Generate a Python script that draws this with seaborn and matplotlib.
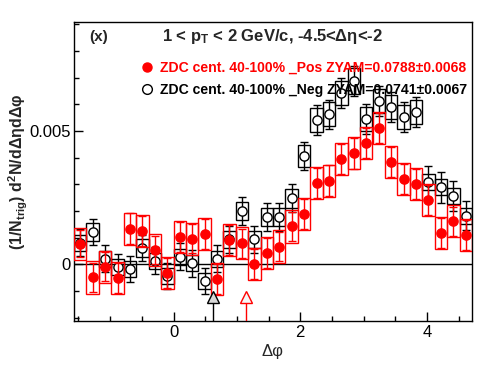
import numpy as np
import pandas as pd
import matplotlib
matplotlib.use("Agg")
import matplotlib.pyplot as plt
import seaborn as sns
from matplotlib.lines import Line2D
from matplotlib.ticker import MultipleLocator, FuncFormatter

sns.set_style("ticks")
plt.rcParams["font.family"] = ["Liberation Sans", "DejaVu Sans"]
plt.rcParams["mathtext.fontset"] = "custom"
plt.rcParams["mathtext.rm"] = "Liberation Sans"
plt.rcParams["mathtext.bf"] = "Liberation Sans:bold"
plt.rcParams["mathtext.it"] = "Liberation Sans:italic"

# ---------------- data ----------------
n_bins = 32
bin_edges = np.linspace(-np.pi / 2, 3 * np.pi / 2, n_bins + 1)
dphi = 0.5 * (bin_edges[:-1] + bin_edges[1:])
bin_width = bin_edges[1] - bin_edges[0]

pos_vals = [0.00078, -0.00049, -0.00008, -0.00052, 0.00133, 0.00125, 0.00054, -0.00031,
            0.00102, 0.00096, 0.00113, -0.00056, 0.00092, 0.00079, 0.00001, 0.00043,
            0.00067, 0.00142, 0.00189, 0.00304, 0.00314, 0.00394, 0.00416, 0.00454,
            0.00510, 0.00383, 0.00319, 0.00300, 0.00242, 0.00117, 0.00161, 0.00110]
pos_stat = [0.00052, 0.00056, 0.00055, 0.00056, 0.00058, 0.00056, 0.00054, 0.00056,
            0.00055, 0.00055, 0.00056, 0.00056, 0.00056, 0.00055, 0.00055, 0.00055,
            0.00056, 0.00056, 0.00056, 0.00056, 0.00057, 0.00057, 0.00057, 0.00057,
            0.00057, 0.00057, 0.00056, 0.00056, 0.00056, 0.00056, 0.00055, 0.00055]
pos_sys = [0.00060] * n_bins

neg_vals = [0.00082, 0.00121, 0.00021, -0.00010, -0.00017, 0.00061, 0.00014, -0.00043,
            0.00029, 0.00004, -0.00062, 0.00021, 0.00094, 0.00200, 0.00094, 0.00178,
            0.00178, 0.00248, 0.00406, 0.00541, 0.00562, 0.00643, 0.00687, 0.00544,
            0.00612, 0.00590, 0.00552, 0.00571, 0.00309, 0.00289, 0.00257, 0.00183]
neg_stat = [0.00050, 0.00050, 0.00050, 0.00050, 0.00050, 0.00050, 0.00050, 0.00050,
            0.00050, 0.00050, 0.00050, 0.00050, 0.00050, 0.00052, 0.00050, 0.00052,
            0.00052, 0.00052, 0.00053, 0.00055, 0.00055, 0.00056, 0.00057, 0.00055,
            0.00056, 0.00056, 0.00055, 0.00056, 0.00060, 0.00058, 0.00056, 0.00054]
neg_sys = [0.00030, 0.00033, 0.00030, 0.00030, 0.00030, 0.00033, 0.00030, 0.00030,
           0.00030, 0.00030, 0.00030, 0.00030, 0.00032, 0.00035, 0.00032, 0.00034,
           0.00034, 0.00036, 0.00042, 0.00044, 0.00045, 0.00045, 0.00050, 0.00045,
           0.00046, 0.00045, 0.00044, 0.00045, 0.00030, 0.00030, 0.00030, 0.00030]

marker_x = [0.618, 1.141]
marker_y = [-0.00122, -0.00122]

pos_label = "ZDC cent. 40-100% _Pos ZYAM=0.0788\u00b10.0068"
neg_label = "ZDC cent. 40-100% _Neg ZYAM=0.0741\u00b10.0067"
title_text = "1 < p$_{\\mathbf{T}}$ < 2 GeV/c, -4.5<\u0394\u03b7<-2"
ylabel_text = "(1/N$_{\\mathbf{trig}}$) d$^{\\mathbf{2}}$N/d\u0394\u03b7d\u0394\u03c6"
xlabel_text = "\u0394\u03c6"

df = pd.DataFrame({
    "dphi": np.concatenate([dphi, dphi]),
    "val": pos_vals + neg_vals,
    "stat": pos_stat + neg_stat,
    "sys": pos_sys + neg_sys,
    "series": ["Pos"] * n_bins + ["Neg"] * n_bins,
})

# ---------------- figure ----------------
W, H = 496, 374
fig = plt.figure(figsize=(W / 100, H / 100), dpi=100)
L, R, T, B = 74, 472, 22, 321
ax = fig.add_axes([L / W, 1 - B / H, (R - L) / W, (B - T) / H])

ax.axhline(0, color="black", lw=1.0, zorder=1)

styles = {"Neg": dict(color="black", face="white", z=2),
          "Pos": dict(color="red", face="red", z=5)}
for name in ["Neg", "Pos"]:
    d = df[df["series"] == name]
    st = styles[name]
    ax.bar(d["dphi"].to_numpy(), (2 * d["sys"]).to_numpy(),
           bottom=(d["val"] - d["sys"]).to_numpy(), width=bin_width, align="center",
           fill=False, edgecolor=st["color"], linewidth=1.0, zorder=st["z"])
    ax.errorbar(d["dphi"], d["val"], yerr=d["stat"], fmt="none", ecolor=st["color"],
                elinewidth=1.0, capsize=3, capthick=1.0, zorder=st["z"] + 0.5)
    sns.scatterplot(data=d, x="dphi", y="val", ax=ax, marker="o", s=44,
                    color=st["face"], edgecolor=st["color"], linewidth=1.0,
                    zorder=st["z"] + 1, legend=False)

# triangle markers near the bottom
ax.errorbar([marker_x[0]], [marker_y[0]], yerr=[[0.003], [0]], fmt="^", ms=9,
            mfc="#d8d8d8", mec="black", mew=1.0, ecolor="black", elinewidth=1.0,
            capsize=0, zorder=8)
ax.errorbar([marker_x[1]], [marker_y[1]], yerr=[[0.003], [0]], fmt="^", ms=9,
            mfc="#f6f6f6", mec="red", mew=1.0, ecolor="red", elinewidth=1.0,
            capsize=0, zorder=8)

ax.set_xlim(-np.pi / 2, 3 * np.pi / 2)
ax.set_ylim(-0.00212, 0.00908)

ax.xaxis.set_major_locator(MultipleLocator(2))
ax.xaxis.set_minor_locator(MultipleLocator(0.5))
ax.yaxis.set_major_locator(MultipleLocator(0.005))
ax.yaxis.set_minor_locator(MultipleLocator(0.001))
ax.yaxis.set_major_formatter(FuncFormatter(lambda v, p: "0" if abs(v) < 1e-12 else f"{v:g}"))
ax.xaxis.set_major_formatter(FuncFormatter(lambda v, p: f"{v:g}"))
ax.tick_params(axis="both", which="both", direction="in", top=False, right=False,
               labelsize=12, width=1.0, colors="black")
ax.tick_params(axis="x", which="major", length=6.5, pad=3)
ax.tick_params(axis="y", which="major", length=6.5, pad=2.5)
ax.tick_params(axis="both", which="minor", length=3.5)
for s in ax.spines.values():
    s.set_linewidth(1.0)
    s.set_color("black")

ax.set_xlabel(xlabel_text, fontsize=12, labelpad=3)
ax.set_ylabel(ylabel_text, fontsize=11.5, fontweight="bold")
ax.yaxis.set_label_coords(-44 / (R - L), 0.5)

fig.text(99 / W, 1 - 37 / H, "(x)", fontsize=11, fontweight="bold", ha="center", va="center")
fig.text(162 / W, 1 - 37 / H, title_text, fontsize=12, fontweight="bold",
         ha="left", va="center")

handles = [Line2D([], [], ls="none", marker="o", ms=6.5, mfc="red", mec="red"),
           Line2D([], [], ls="none", marker="o", ms=7, mfc="white", mec="black", mew=1.0)]
leg = ax.legend(handles, [pos_label, neg_label], loc="center left",
                bbox_to_anchor=(141 / W, 1 - 79 / H), bbox_transform=fig.transFigure,
                frameon=False, handlelength=0.9, handletextpad=0.45, labelspacing=0.62,
                borderpad=0, borderaxespad=0, prop={"weight": "bold", "size": 10.1})
for txt, c in zip(leg.get_texts(), ["red", "black"]):
    txt.set_color(c)
leg.set_zorder(10)

fig.savefig("out.png", dpi=100, facecolor="white")
